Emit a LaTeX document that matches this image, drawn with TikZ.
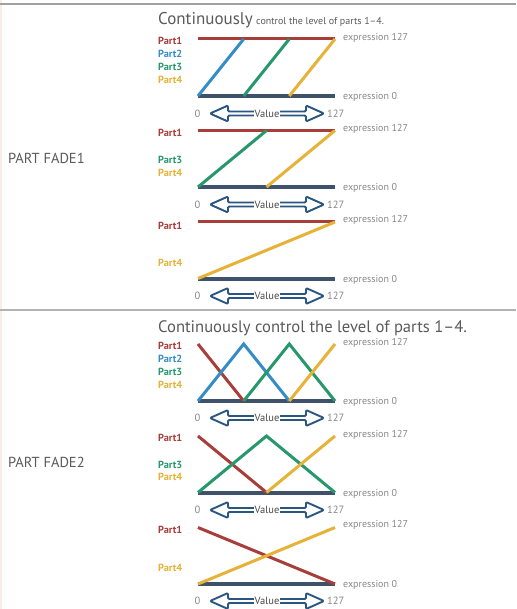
\documentclass[tikz,border=0pt]{standalone}
\usepackage{fontspec}
\setmainfont{PT Sans}
\definecolor{pred}{RGB}{168,62,58}
\definecolor{pblue}{RGB}{52,141,199}
\definecolor{pgreen}{RGB}{38,152,108}
\definecolor{pyellow}{RGB}{230,178,55}
\definecolor{dbase}{RGB}{62,82,107}
\definecolor{arrblue}{RGB}{42,86,130}
\definecolor{txgray}{RGB}{90,90,90}
\definecolor{exgray}{RGB}{135,135,135}
\definecolor{rulegray}{RGB}{160,160,160}
\definecolor{edgepink}{RGB}{252,236,230}
\tikzset{
  partlbl/.style={anchor=west, font=\fontsize{10.3}{11}\selectfont\bfseries, inner sep=0},
  exprlbl/.style={anchor=west, font=\fontsize{10}{11}\selectfont, text=exgray, inner sep=0},
  numlbl/.style={font=\fontsize{10.5}{11}\selectfont, text=exgray, inner sep=0},
  vallbl/.style={font=\fontsize{10.5}{11}\selectfont, text=txgray!80!black, fill=white, inner xsep=0.5pt, inner ysep=0.2pt},
  arrowstyle/.style={draw=arrblue, line width=1.9pt, fill=white, line join=round, rounded corners=1.2pt},
  lvl/.style={line width=3pt},
  baseline/.style={line width=4pt, draw=dbase},
  secttl/.style={anchor=west, font=\fontsize{14.5}{15}\selectfont, text=txgray, inner sep=0},
  headbig/.style={anchor=base west, text=txgray, inner sep=0}
}
\newcommand{\valrow}[2]{%
  \node[numlbl] (#2z) at (197.5,#1) {0};
  \draw[arrowstyle] (210,#1) -- ++(18,-8) -- ++(0,6) -- ++(78,0) -- ++(0,-6) -- ++(18,8) -- ++(-18,8) -- ++(0,-6) -- ++(-78,0) -- ++(0,6) -- cycle;
  \node[vallbl] (#2v) at (267,#1) {Value};
  \node[numlbl, anchor=west] (#2m) at (327,#1) {127};
}
\newcommand{\exprs}[3]{%
  \node[exprlbl] (#3a) at (343,#1) {expression 127};
  \node[exprlbl] (#3b) at (343,#2) {expression 0};
}
\begin{document}
\begin{tikzpicture}[x=1pt,y=-1pt]
\useasboundingbox (0,0) rectangle (516,609);
\fill[white] (0,0) rectangle (516,609);
\draw[edgepink, line width=1.5pt] (0.75,0) -- (0.75,609);
% rules
\draw[rulegray, line width=2pt] (0,4) -- (516,4);
\draw[rulegray!80, line width=1.2pt] (0,310) -- (516,310);
% section labels
\node[secttl] (s1) at (8,158) {PART FADE1};
\node[secttl] (s2) at (8,462) {PART FADE2};
% headings
\node[headbig, font=\fontsize{17}{18}\selectfont] (h1) at (158,25) {Continuously};
\node[anchor=base west, text=txgray, inner sep=0, font=\fontsize{10}{11}\selectfont] (h1b) at ([xshift=3pt]h1.base east) {control the level of parts 1–4.};
\node[headbig, font=\fontsize{16.6}{17}\selectfont] (h2) at (158,332) {Continuously control the level of parts 1–4.};

% ---------- Panel 1 ----------
\node[partlbl, text=pred] (p1a) at (158,41) {Part1};
\node[partlbl, text=pblue] (p1b) at (158,54) {Part2};
\node[partlbl, text=pgreen] (p1c) at (158,67) {Part3};
\node[partlbl, text=pyellow] (p1d) at (158,80) {Part4};
\draw[baseline] (198,96) -- (335,96);
\draw[lvl, pred] (198,39) -- (335,39);
\draw[lvl, pblue] (198,96) -- (243.7,39);
\draw[lvl, pgreen] (243.7,96) -- (289.3,39);
\draw[lvl, pyellow] (289.3,96) -- (335,39);
\exprs{38}{97}{e1}
\valrow{113.5}{v1}

% ---------- Panel 2 ----------
\node[partlbl, text=pred] (p2a) at (158,133) {Part1};
\node[partlbl, text=pgreen] (p2c) at (158,160) {Part3};
\node[partlbl, text=pyellow] (p2d) at (158,172.5) {Part4};
\draw[baseline] (198,187) -- (335,187);
\draw[lvl, pred] (198,130.5) -- (335,130.5);
\draw[lvl, pgreen] (198,187) -- (266.5,130.5);
\draw[lvl, pyellow] (266.5,187) -- (335,130.5);
\exprs{129}{188}{e2}
\valrow{204.5}{v2}

% ---------- Panel 3 ----------
\node[partlbl, text=pred] (p3a) at (158,226) {Part1};
\node[partlbl, text=pyellow] (p3d) at (158,263) {Part4};
\draw[baseline] (198,278.5) -- (335,278.5);
\draw[lvl, pred] (198,222) -- (335,222);
\draw[lvl, pyellow] (198,278.5) -- (335,222);
\exprs{220}{279.5}{e3}
\valrow{296}{v3}

% ---------- Panel 4 ----------
\node[partlbl, text=pred] (p4a) at (158,346) {Part1};
\node[partlbl, text=pblue] (p4b) at (158,359) {Part2};
\node[partlbl, text=pgreen] (p4c) at (158,372) {Part3};
\node[partlbl, text=pyellow] (p4d) at (158,385) {Part4};
\draw[baseline] (198,401) -- (335,401);
\draw[lvl, pred] (198,344) -- (243.7,401);
\draw[lvl, pblue] (198,401) -- (243.7,344) -- (289.3,401);
\draw[lvl, pgreen] (243.7,401) -- (289.3,344) -- (335,401);
\draw[lvl, pyellow] (289.3,401) -- (335,344);
\exprs{343}{402}{e4}
\valrow{418}{v4}

% ---------- Panel 5 ----------
\node[partlbl, text=pred] (p5a) at (158,438) {Part1};
\node[partlbl, text=pgreen] (p5c) at (158,464.5) {Part3};
\node[partlbl, text=pyellow] (p5d) at (158,477) {Part4};
\draw[baseline] (198,492.5) -- (335,492.5);
\draw[lvl, pred] (198,436) -- (266.5,492.5);
\draw[lvl, pgreen] (198,492.5) -- (266.5,436) -- (335,492.5);
\draw[lvl, pyellow] (266.5,492.5) -- (335,436);
\exprs{435}{494}{e5}
\valrow{510}{v5}

% ---------- Panel 6 ----------
\node[partlbl, text=pred] (p6a) at (158,530) {Part1};
\node[partlbl, text=pyellow] (p6d) at (158,568) {Part4};
\draw[baseline] (198,584) -- (335,584);
\draw[lvl, pred] (198,527.5) -- (335,584);
\draw[lvl, pyellow] (198,584) -- (335,527.5);
\exprs{525}{584.5}{e6}
\valrow{601}{v6}
\end{tikzpicture}
\end{document}
